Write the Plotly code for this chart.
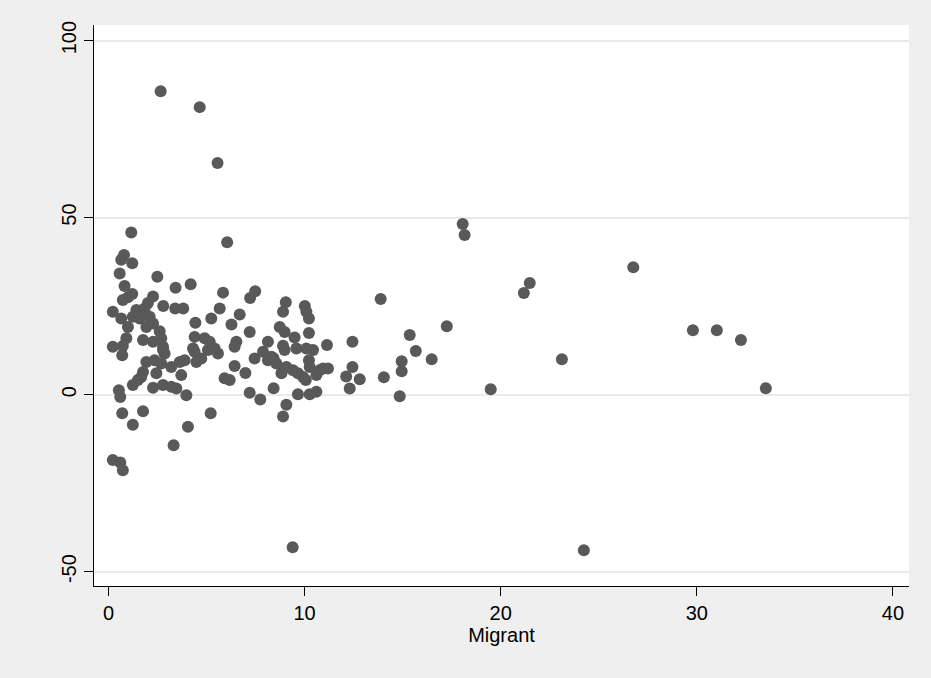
import plotly.graph_objects as go

# Share of migrants (x) against the outcome variable (y), one marker per observation
migrant = [
    1.16, 0.79, 0.65, 1.21, 0.57, 0.82, 1.21, 0.99, 0.73, 0.22, 0.65, 0.99,
    0.91, 0.22, 0.73, 0.70, 0.53, 0.60, 0.70, 1.24, 1.24, 0.22, 0.60, 0.73,
    2.66, 2.49, 3.42, 4.19, 2.27, 2.01, 1.42, 1.84, 2.79, 3.40, 3.81, 1.59,
    2.10, 1.93, 2.27, 2.61, 1.76, 2.27, 2.69, 2.78, 1.93, 2.35, 2.69, 2.86,
    2.78, 1.76, 1.67, 2.44, 1.50, 2.27, 2.78, 3.20, 3.46, 3.20, 3.63, 3.88,
    3.71, 3.97, 1.76, 3.32, 4.05, 1.24,
    4.65, 5.56, 6.05, 5.84, 7.48, 7.22, 5.67, 5.24, 4.43, 6.69, 6.27, 7.20,
    4.39, 4.90, 5.16, 5.41, 4.31, 6.52, 6.43, 4.39, 4.48, 4.73, 5.07, 5.58,
    6.43, 6.98, 5.92, 6.18, 7.45, 7.88, 8.13, 8.31, 7.20, 7.74, 5.21, 8.13,
    9.04, 8.90, 10.01, 10.09, 10.22, 8.73, 8.98, 10.22, 9.49, 11.14, 12.44, 8.90,
    8.98, 9.58, 10.09, 10.43, 8.42, 8.56, 10.22, 10.26, 9.07, 9.41, 8.82, 9.66,
    9.92, 10.06, 10.60, 10.77, 10.94, 11.19, 12.44, 12.12, 12.81, 12.30, 8.42, 9.66,
    10.26, 10.60, 9.07, 8.90, 9.39,
    18.06, 18.16, 13.88, 17.25, 15.36, 15.67, 16.48, 14.95, 14.95, 14.04, 14.85,
    19.49, 21.18, 21.48, 23.12, 24.24, 26.76, 29.80, 31.02, 32.25, 33.52,
]

outcome = [
    45.8, 39.4, 38.1, 37.1, 34.2, 30.7, 28.4, 27.5, 26.7, 23.4, 21.5, 19.1,
    15.9, 13.5, 13.7, 11.1, 1.2, -0.7, -5.3, 2.7, -8.5, -18.5, -19.2, -21.4,
    85.7, 33.3, 30.2, 31.2, 27.7, 25.9, 23.9, 24.3, 25.0, 24.3, 24.3, 21.5,
    22.0, 19.1, 20.1, 17.9, 15.4, 14.9, 15.9, 13.5, 9.2, 9.7, 8.8, 11.6,
    12.6, 6.4, 5.0, 6.0, 4.1, 1.9, 2.7, 2.2, 1.7, 7.8, 9.2, 9.7,
    5.5, -0.2, -4.7, -14.3, -9.1, 22.0,
    81.2, 65.4, 43.0, 28.8, 29.2, 27.3, 24.3, 21.5, 20.3, 22.6, 19.8, 17.7,
    16.3, 15.9, 14.9, 13.0, 13.0, 14.9, 13.5, 12.1, 9.2, 10.2, 12.6, 11.6,
    8.1, 6.1, 4.6, 4.1, 10.2, 12.1, 9.7, 10.7, 0.5, -1.4, -5.3, 14.9,
    26.1, 23.4, 25.0, 23.4, 21.5, 19.1, 17.7, 17.4, 16.1, 14.0, 14.9, 13.8,
    12.6, 13.0, 13.0, 12.6, 10.2, 8.8, 9.7, 7.8, 7.8, 6.9, 6.0, 6.0,
    5.0, 4.1, 5.5, 6.9, 7.4, 7.4, 7.8, 5.1, 4.3, 1.7, 1.8, 0.1,
    0.1, 0.8, -2.9, -6.2, -43.1,
    48.2, 45.1, 27.0, 19.3, 16.8, 12.3, 10.0, 9.4, 6.6, 4.9, -0.5,
    1.5, 28.7, 31.5, 10.0, -44.0, 36.0, 18.2, 18.2, 15.4, 1.8,
]

x_ticks = [0, 10, 20, 30, 40]
y_ticks = [-50, 0, 50, 100]

FONT = "Liberation Sans, Arial, sans-serif"
MARKER = "rgb(89,89,89)"

fig = go.Figure(
    go.Scatter(
        x=migrant,
        y=outcome,
        mode="markers",
        marker=dict(size=12, color=MARKER, line=dict(width=0)),
        hoverinfo="skip",
    )
)

fig.update_layout(
    width=931,
    height=678,
    margin=dict(l=94, r=22, t=25, b=92),
    paper_bgcolor="rgb(239,239,239)",
    plot_bgcolor="white",
    showlegend=False,
    font=dict(family=FONT, size=20, color="black"),
)

fig.update_xaxes(
    range=[-0.74, 40.82],
    tickvals=x_ticks,
    ticktext=[str(v) for v in x_ticks],
    showgrid=False,
    zeroline=False,
    showline=True,
    linecolor="black",
    linewidth=1,
    ticks="outside",
    ticklen=9,
    tickcolor="black",
    tickfont=dict(family=FONT, size=20),
    title=dict(text="Migrant", font=dict(family=FONT, size=20), standoff=2),
    automargin=False,
)

fig.update_yaxes(
    range=[-54.07, 104.4],
    tickvals=y_ticks,
    ticktext=[str(v) for v in y_ticks],
    tickangle=-90,
    showgrid=True,
    gridcolor="rgb(234,234,234)",
    gridwidth=2,
    zeroline=False,
    showline=True,
    linecolor="black",
    linewidth=1,
    ticks="outside",
    ticklen=9,
    tickcolor="black",
    tickfont=dict(family=FONT, size=20),
    automargin=False,
)

fig.write_html("out.html")
